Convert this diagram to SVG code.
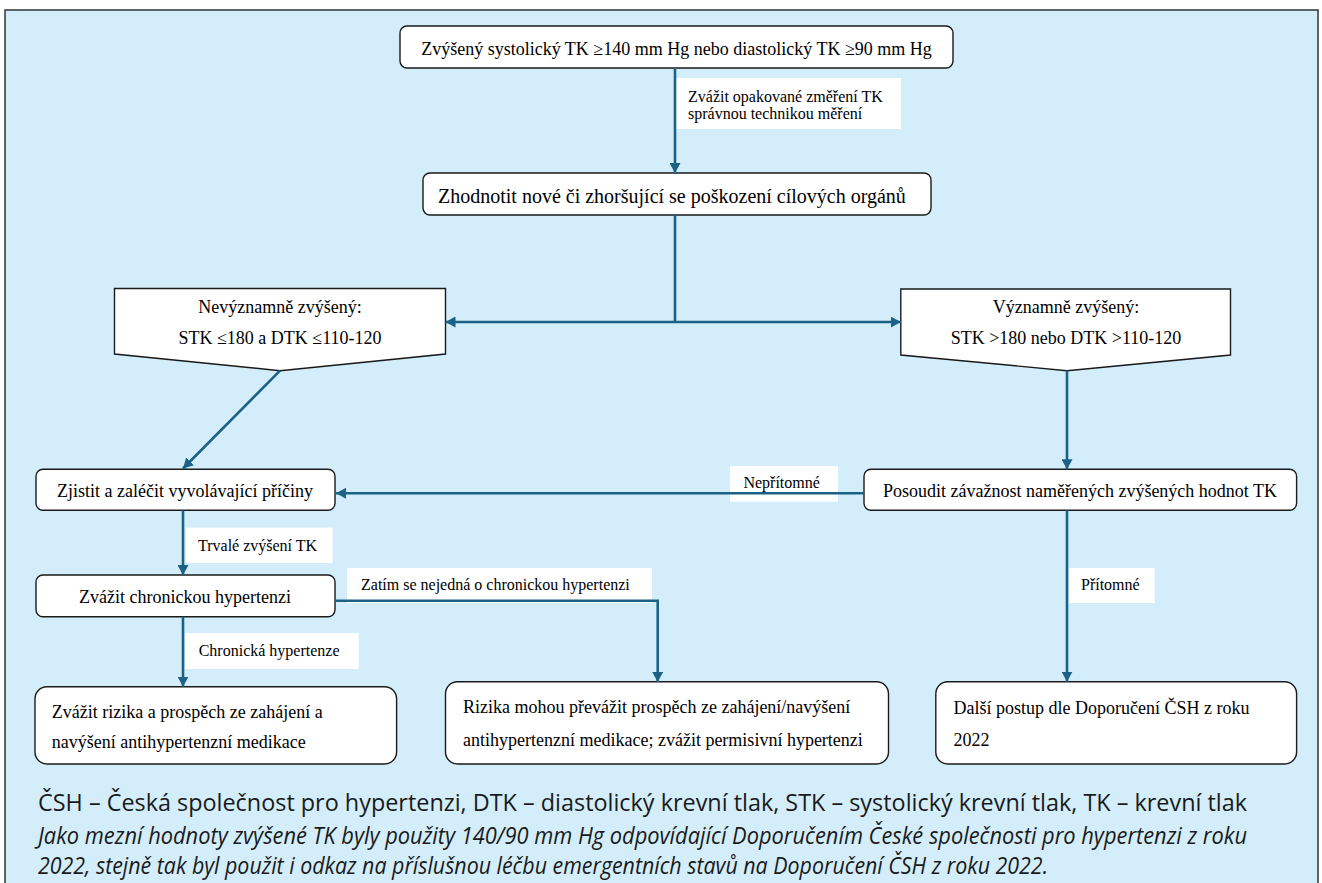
<svg xmlns="http://www.w3.org/2000/svg" width="1322" height="883" viewBox="0 0 1322 883">
<defs>
<marker id="ah" markerUnits="userSpaceOnUse" markerWidth="11" markerHeight="11" refX="10" refY="5.5" orient="auto">
<path d="M0,0 L10,5.5 L0,11 z" fill="#1b6286"/>
</marker>
<style>
.box{fill:#fff;stroke:#1a1a1a;stroke-width:1.4}
.t{font-family:"Liberation Serif","Times New Roman",serif;font-size:18px;fill:#000}
.tb{font-family:"Liberation Serif","Times New Roman",serif;font-size:20px;fill:#000}
.tl{font-family:"Liberation Serif","Times New Roman",serif;font-size:16px;fill:#000}
.lab{fill:#fff}
.c{fill:none;stroke:#1b6286;stroke-width:2.6}
.ca{font-family:"Open Sans","Noto Sans",sans-serif;font-size:24px;fill:#1a1a1a}
.cai{font-family:"Open Sans","Noto Sans",sans-serif;font-size:23px;font-style:italic;fill:#1a1a1a}
.m{text-anchor:middle}
</style>
</defs>
<rect x="5" y="10" width="1313" height="885" fill="#d3eefa" stroke="#333" stroke-width="1.5"/>

<g id="n1"><rect class="box" x="400" y="26" width="553" height="42" rx="7"/><text class="t m" x="676.5" y="55">Zvýšený systolický TK ≥140 mm Hg nebo diastolický TK ≥90 mm Hg</text></g>
<g id="n2"><rect class="box" x="423" y="173" width="508" height="42" rx="7"/><text class="tb" x="438" y="203">Zhodnotit nové či zhoršující se poškození cílových orgánů</text></g>
<g id="n3"><polygon class="box" points="114.5,288.5 445.5,288.5 445.5,354 280,370.7 114.5,354"/><text class="t m" x="280" y="312.7">Nevýznamně zvýšený:</text><text class="t m" x="280" y="344">STK ≤180 a DTK ≤110-120</text></g>
<g id="n4"><polygon class="box" points="900.8,289 1230.5,289 1230.5,355 1067,370.7 900.8,355"/><text class="t m" x="1066" y="313">Významně zvýšený:</text><text class="t m" x="1066" y="344">STK &gt;180 nebo DTK &gt;110-120</text></g>
<g id="n5"><rect class="box" x="36" y="469.3" width="299" height="41" rx="7"/><text class="t m" x="185" y="497">Zjistit a zaléčit vyvolávající příčiny</text></g>
<g id="n6"><rect class="box" x="864" y="469.3" width="432.6" height="41" rx="7"/><text class="t m" x="1080" y="497">Posoudit závažnost naměřených zvýšených hodnot TK</text></g>
<g id="n7"><rect class="box" x="36" y="575" width="299" height="41.7" rx="7"/><text class="t m" x="185" y="602.7">Zvážit chronickou hypertenzi</text></g>
<g id="n8"><rect class="box" x="35" y="686.7" width="361.6" height="77.3" rx="12"/><text class="t" x="51.8" y="717.7">Zvážit rizika a prospěch ze zahájení a</text><text class="t" x="51.8" y="748.3">navýšení antihypertenzní medikace</text></g>
<g id="n9"><rect class="box" x="445.5" y="681.7" width="443" height="82.3" rx="12"/><text class="t" x="463" y="713">Rizika mohou převážit prospěch ze zahájení/navýšení</text><text class="t" x="463" y="746">antihypertenzní medikace; zvážit permisivní hypertenzi</text></g>
<g id="n10"><rect class="box" x="935.8" y="681.7" width="360.8" height="82.3" rx="12"/><text class="t" x="953.5" y="714.3">Další postup dle Doporučení ČSH z roku</text><text class="t" x="953.5" y="746">2022</text></g>

<g id="labels">
<rect class="lab" x="676" y="78" width="225" height="51"/><text class="tl" x="688" y="102">Zvážit opakované změření TK</text><text class="tl" x="688" y="119">správnou technikou měření</text>
<rect class="lab" x="186" y="527.7" width="146.6" height="35.3"/><text class="tl" x="198" y="550.5">Trvalé zvýšení TK</text>
<rect class="lab" x="730" y="466" width="108" height="35.7"/><text class="tl" x="743.4" y="488">Nepřítomné</text>
<rect class="lab" x="347" y="568" width="305" height="35"/><text class="tl" x="361" y="590">Zatím se nejedná o chronickou hypertenzi</text>
<rect class="lab" x="185" y="633" width="173.7" height="36"/><text class="tl" x="198.7" y="655.5">Chronická hypertenze</text>
<rect class="lab" x="1069" y="568" width="85.7" height="35"/><text class="tl" x="1081" y="590">Přítomné</text>
</g>

<g id="connectors">
<path class="c" d="M675,68 V173" marker-end="url(#ah)"/>
<path class="c" d="M675,215 V322"/>
<path class="c" d="M675,322 H445.5" marker-end="url(#ah)"/>
<path class="c" d="M675,322 H900.8" marker-end="url(#ah)"/>
<path class="c" d="M280,370.7 L183,468.5" marker-end="url(#ah)"/>
<path class="c" d="M1067,370.7 V469.3" marker-end="url(#ah)"/>
<path class="c" d="M864,493.3 H336" marker-end="url(#ah)"/>
<path class="c" d="M183,510.3 V575" marker-end="url(#ah)"/>
<path class="c" d="M335,600.7 H657.7 V682" marker-end="url(#ah)"/>
<path class="c" d="M183,616.7 V686.7" marker-end="url(#ah)"/>
<path class="c" d="M1067,510.3 V681.7" marker-end="url(#ah)"/>
</g>

<g id="caption">
<text class="ca" x="38" y="811" textLength="1209" lengthAdjust="spacingAndGlyphs">ČSH – Česká společnost pro hypertenzi, DTK – diastolický krevní tlak, STK – systolický krevní tlak, TK – krevní tlak</text>
<text class="cai" x="38" y="844" textLength="1209" lengthAdjust="spacingAndGlyphs">Jako mezní hodnoty zvýšené TK byly použity 140/90 mm Hg odpovídající Doporučením České společnosti pro hypertenzi z roku</text>
<text class="cai" x="38" y="874" textLength="1010" lengthAdjust="spacingAndGlyphs">2022, stejně tak byl použit i odkaz na příslušnou léčbu emergentních stavů na Doporučení ČSH z roku 2022.</text>
</g>
</svg>
